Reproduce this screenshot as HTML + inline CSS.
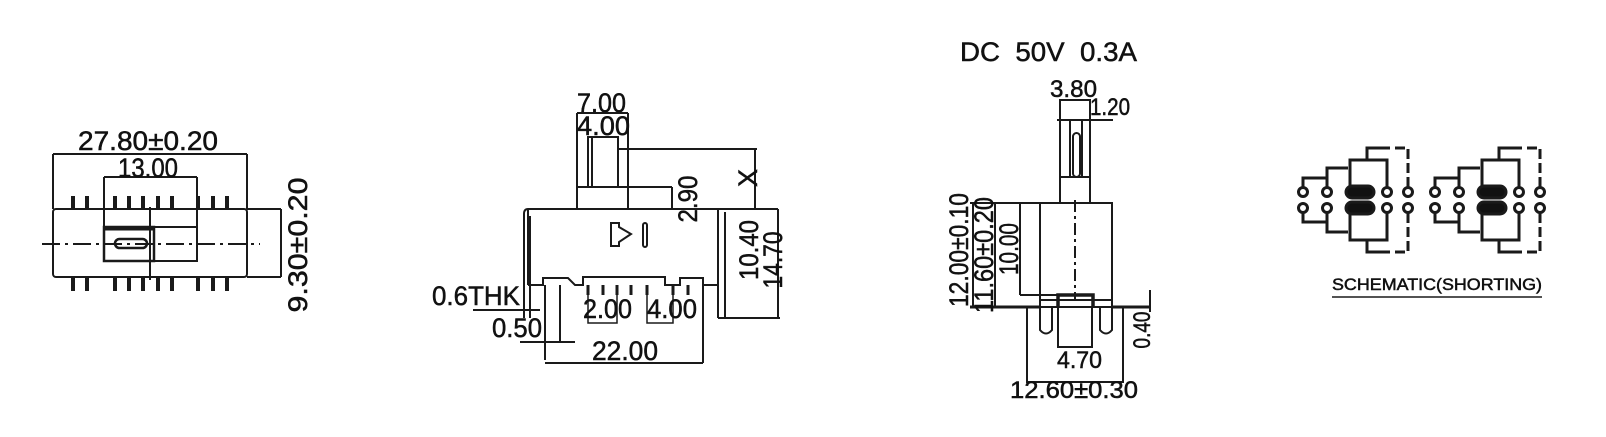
<!DOCTYPE html>
<html><head><meta charset="utf-8"><style>
html,body{margin:0;padding:0;background:#fff;}
svg{display:block;}
text{font-family:"Liberation Sans",sans-serif;fill:#111;stroke:#111;stroke-width:0.5;}
</style></head><body>
<svg width="1606" height="437" viewBox="0 0 1606 437" xmlns="http://www.w3.org/2000/svg">
<g stroke="#1a1a1a" stroke-width="2" fill="none">
<!-- Drawing 1 -->
<rect x="53" y="209" width="194" height="68" rx="3"/>
<line x1="53" y1="154" x2="247" y2="154"/>
<line x1="53" y1="154" x2="53" y2="209"/>
<line x1="247" y1="154" x2="247" y2="209"/>
<line x1="104" y1="177" x2="197" y2="177"/>
<line x1="104" y1="177" x2="104" y2="261"/>
<line x1="197" y1="177" x2="197" y2="261"/>
<rect x="104" y="227" width="93" height="34"/>
<rect x="104" y="227" width="50" height="34" stroke-width="2.5"/>
<line x1="104" y1="229" x2="154" y2="229" stroke-width="3"/>
<rect x="115" y="239" width="32" height="9" rx="4.5" stroke-width="2.5"/>
<line x1="42" y1="244" x2="260" y2="244" stroke-dasharray="18,5,3,5"/>
<line x1="150" y1="207" x2="150" y2="280"/>
<line x1="247" y1="209" x2="281" y2="209"/>
<line x1="247" y1="277" x2="281" y2="277"/>
<line x1="281" y1="209" x2="281" y2="277"/>
<g stroke-width="4">
<path d="M73 209V196M87 209V196M115 209V196M129 209V196M143 209V196M158 209V196M172 209V196M198 209V196M213 209V196M227 209V196"/>
<path d="M73 277V291M87 277V291M115 277V291M129 277V291M143 277V291M158 277V291M172 277V291M198 277V291M213 277V291M227 277V291"/>
</g>
<!-- Drawing 2 -->
<line x1="528" y1="209" x2="718" y2="209"/>
<line x1="528" y1="209" x2="528" y2="285"/>
<path d="M524 318V214Q524 209 528 209"/>
<line x1="530" y1="216" x2="530" y2="318"/>
<line x1="718" y1="209" x2="718" y2="318"/>
<line x1="725" y1="212" x2="725" y2="318"/>
<line x1="718" y1="318" x2="780" y2="318"/>
<line x1="718" y1="209" x2="778" y2="209"/>
<line x1="778" y1="209" x2="778" y2="318"/>
<path d="M528 285H543V278H568L575 285H583V277H665V285H680V278H703V285H718"/>
<rect x="577" y="187" width="51" height="22"/>
<rect x="588" y="137" width="30" height="50"/>
<line x1="592" y1="137" x2="592" y2="187"/>
<line x1="577" y1="113" x2="577" y2="187"/>
<line x1="628" y1="113" x2="628" y2="187"/>
<line x1="577" y1="113" x2="628" y2="113"/>
<line x1="618" y1="149" x2="757" y2="149"/>
<line x1="755" y1="149" x2="755" y2="209"/>
<line x1="628" y1="187" x2="672" y2="187"/>
<line x1="672" y1="187" x2="672" y2="209"/>
<path d="M611 223H619V227L631 234L619 242V246H611Z" stroke-width="2"/>
<rect x="643" y="223" width="4" height="24" rx="2"/>
<line x1="545" y1="285" x2="545" y2="360"/>
<line x1="560" y1="285" x2="560" y2="342"/>
<line x1="703" y1="285" x2="703" y2="363"/>
<g stroke-width="3">
<path d="M588 285V295M603 285V295M617 285V295M631 285V295M647 285V295M673 285V295M688 285V295"/>
</g>
<path d="M588 295V323H617V295M647 295V323H673V295" stroke-width="1.5"/>
<line x1="545" y1="363" x2="703" y2="363"/>
<line x1="473" y1="310" x2="540" y2="310"/>
<line x1="520" y1="342" x2="575" y2="342"/>
<!-- Drawing 3 -->
<line x1="1060" y1="100" x2="1090" y2="100"/>
<line x1="1057" y1="120" x2="1113" y2="120"/>
<rect x="1060" y="100" width="30" height="77"/>
<line x1="1070" y1="120" x2="1070" y2="177"/>
<line x1="1082" y1="120" x2="1082" y2="177"/>
<rect x="1073" y="133" width="7" height="44" rx="3.5"/>
<rect x="1060" y="177" width="30" height="26"/>
<rect x="1040" y="203" width="72" height="97"/>
<line x1="970" y1="203" x2="1040" y2="203"/>
<line x1="973" y1="203" x2="973" y2="307"/>
<line x1="995" y1="203" x2="995" y2="307"/>
<line x1="1020" y1="203" x2="1020" y2="295"/>
<line x1="1020" y1="295" x2="1058" y2="295"/>
<line x1="970" y1="307" x2="1040" y2="307" stroke-width="3"/>
<line x1="1112" y1="307" x2="1150" y2="307" stroke-width="3"/>
<line x1="1150" y1="290" x2="1150" y2="312"/>
<path d="M1058 307V295H1093V307" stroke-width="3.5"/>
<path d="M1040 300V330Q1046 337 1052 330V307"/>
<path d="M1100 307V330Q1106 337 1112 330V300"/>
<rect x="1027" y="307" width="96" height="75"/>
<rect x="1058" y="307" width="34" height="40"/>
<line x1="1075" y1="200" x2="1075" y2="300" stroke-dasharray="12,4,3,4"/>
<!-- Drawing 4 -->
<g id="sch" stroke-width="3">
<path d="M1303 192V178H1327M1327 192V168H1348M1350 186V160H1367V148H1390M1367 160H1387V192"/>
<path d="M1395 148H1408V192" stroke-dasharray="10,4"/>
<path d="M1303 208V222H1327M1327 208V232H1348M1350 214V240H1367V252H1390M1367 240H1387V208"/>
<path d="M1395 252H1408V208" stroke-dasharray="10,4"/>
<circle cx="1303" cy="192" r="4.5" fill="#fff"/><circle cx="1327" cy="192" r="4.5" fill="#fff"/>
<circle cx="1387" cy="192" r="4.5" fill="#fff"/><circle cx="1408" cy="192" r="4.5" fill="#fff"/>
<circle cx="1303" cy="208" r="4.5" fill="#fff"/><circle cx="1327" cy="208" r="4.5" fill="#fff"/>
<circle cx="1387" cy="208" r="4.5" fill="#fff"/><circle cx="1408" cy="208" r="4.5" fill="#fff"/>
<rect x="1346" y="186" width="28" height="12" rx="6" fill="#111"/>
<rect x="1346" y="202" width="28" height="12" rx="6" fill="#111"/>
</g>
<use href="#sch" x="132"/>
<line x1="1332" y1="297" x2="1542" y2="297" stroke-width="1.5"/>
</g>
<g font-size="27">
<text x="78" y="150" textLength="140" lengthAdjust="spacingAndGlyphs">27.80±0.20</text>
<text x="118" y="177" textLength="60" lengthAdjust="spacingAndGlyphs">13.00</text>
<text transform="translate(307,245) rotate(-90)" text-anchor="middle" textLength="135" lengthAdjust="spacingAndGlyphs">9.30±0.20</text>
<text x="577" y="112" textLength="49" lengthAdjust="spacingAndGlyphs">7.00</text>
<text x="577" y="135" textLength="53" lengthAdjust="spacingAndGlyphs">4.00</text>
<text transform="translate(697,199) rotate(-90)" text-anchor="middle" textLength="47" lengthAdjust="spacingAndGlyphs">2.90</text>
<text transform="translate(757,178) rotate(-90)" text-anchor="middle">X</text>
<text transform="translate(758,250) rotate(-90)" text-anchor="middle" textLength="60" lengthAdjust="spacingAndGlyphs">10.40</text>
<text transform="translate(782,260) rotate(-90)" text-anchor="middle" textLength="57" lengthAdjust="spacingAndGlyphs">14.70</text>
<text x="432" y="305" textLength="88" lengthAdjust="spacingAndGlyphs">0.6THK</text>
<text x="492" y="337" textLength="50" lengthAdjust="spacingAndGlyphs">0.50</text>
<text x="583" y="318" textLength="49" lengthAdjust="spacingAndGlyphs">2.00</text>
<text x="647" y="318" textLength="50" lengthAdjust="spacingAndGlyphs">4.00</text>
<text x="592" y="360" textLength="66" lengthAdjust="spacingAndGlyphs">22.00</text>
<text x="1050" y="97" font-size="24" textLength="47" lengthAdjust="spacingAndGlyphs">3.80</text>
<text x="1090" y="115" font-size="24" textLength="40" lengthAdjust="spacingAndGlyphs">1.20</text>
<text transform="translate(968,250) rotate(-90)" text-anchor="middle" textLength="114" lengthAdjust="spacingAndGlyphs">12.00±0.10</text>
<text transform="translate(993,255) rotate(-90)" text-anchor="middle" textLength="116" lengthAdjust="spacingAndGlyphs">11.60±0.20</text>
<text transform="translate(1018,249) rotate(-90)" text-anchor="middle" textLength="52" lengthAdjust="spacingAndGlyphs">10.00</text>
<text x="1057" y="368" font-size="24" textLength="45" lengthAdjust="spacingAndGlyphs">4.70</text>
<text x="1010" y="398" font-size="24" textLength="128" lengthAdjust="spacingAndGlyphs">12.60±0.30</text>
<text transform="translate(1150,330) rotate(-90)" text-anchor="middle" font-size="24" textLength="37" lengthAdjust="spacingAndGlyphs">0.40</text>
</g>
<text x="960" y="61" font-size="27" textLength="177" lengthAdjust="spacingAndGlyphs" xml:space="preserve">DC  50V  0.3A</text>
<text x="1332" y="290" font-size="17" textLength="210" lengthAdjust="spacingAndGlyphs">SCHEMATIC(SHORTING)</text>
</svg>
</body></html>
